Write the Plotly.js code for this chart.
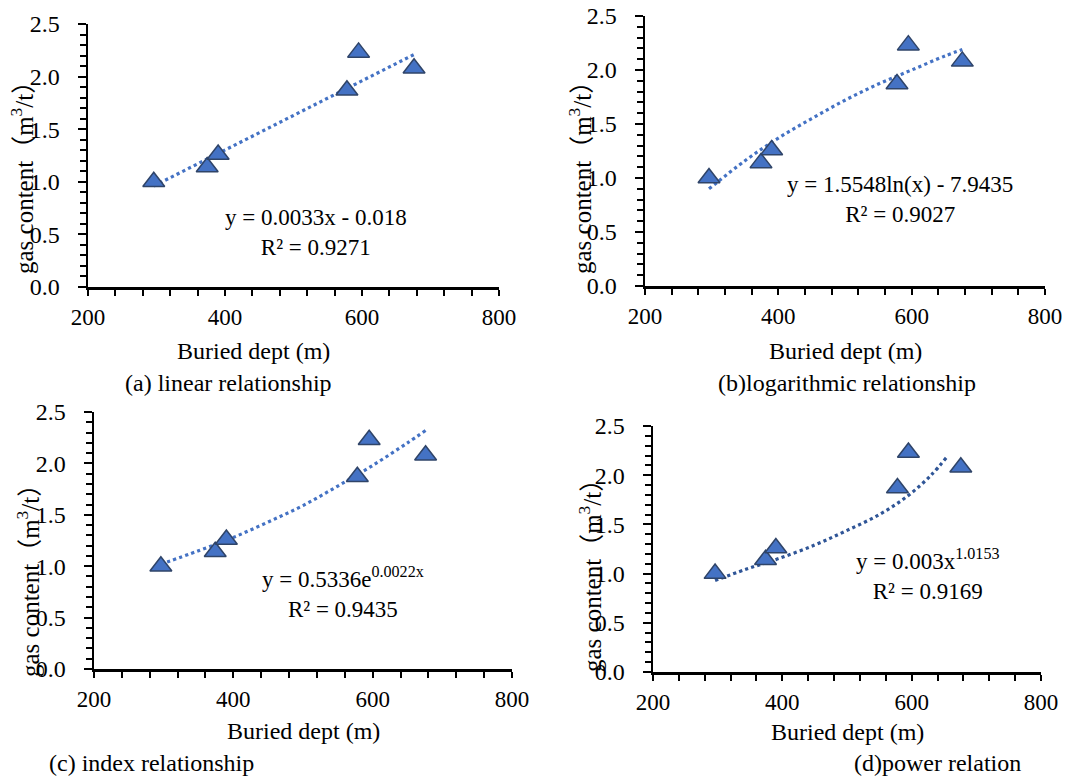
<!DOCTYPE html>
<html>
<head>
<meta charset="utf-8">
<script src="https://cdn.plot.ly/plotly-3.0.1.min.js"></script>
<style>html,body{margin:0;padding:0;background:#fff;}#chart{width:1090px;height:776px;}</style>
</head>
<body>
<div id="chart"></div>
<script>
// ---- data ----
const depth = [296, 374, 390, 578, 595, 676];
const gasContent = [1.00, 1.14, 1.26, 1.87, 2.23, 2.08];

const linFitX = [296, 676];
const linFitY = [0.96, 2.21];

const logFitX = [296, 350, 400, 450, 500, 550, 600, 650, 676];
const logFitY = [0.90, 1.16, 1.37, 1.55, 1.72, 1.87, 2.00, 2.13, 2.19];

const expFitX = [296, 350, 400, 450, 500, 550, 600, 650, 676];
const expFitY = [1.02, 1.15, 1.28, 1.43, 1.59, 1.78, 1.98, 2.20, 2.32];

const powFitX = [296, 342, 393, 450, 497, 550, 594, 630, 655];
const powFitY = [0.93, 1.04, 1.15, 1.29, 1.43, 1.60, 1.79, 2.00, 2.19];

const xTicks = [200, 400, 600, 800];
const yTicks = [0.0, 0.5, 1.0, 1.5, 2.0, 2.5];
const yTickText = ['0.0', '0.5', '1.0', '1.5', '2.0', '2.5'];

const xTitle = 'Buried dept (m)';
const yTitle = 'gas content（m<sup>3</sup>/t）';
const captions = ['(a) linear relationship', '(b)logarithmic relationship', '(c) index relationship', '(d)power relation'];
const eqTexts = ['y = 0.0033x - 0.018<br>R² = 0.9271',
                 'y = 1.5548ln(x) - 7.9435<br>R² = 0.9027',
                 'y = 0.5336e<sup>0.0022x</sup><br>R² = 0.9435',
                 'y = 0.003x<sup>1.0153</sup><br>R² = 0.9169'];

// ---- layout geometry (pixels) ----
const W = 1090, H = 776;
const FONT = "'Liberation Serif', 'Noto Sans CJK SC', serif";
const panels = [
  {x0: 88,  x1: 499,  y0: 24,  y1: 287, ytx: 22,  yty: 172, xtx: 253, xty: 351, capx: 123, capy: 383, eqx: 316, eqy: 232, fitX: linFitX, fitY: linFitY, fitColor: '#4472C4', shape: 'linear'},
  {x0: 645, x1: 1045, y0: 16,  y1: 286, ytx: 580, yty: 172, xtx: 845, xty: 351, capx: 716, capy: 383, eqx: 900, eqy: 200, fitX: logFitX, fitY: logFitY, fitColor: '#4472C4', shape: 'spline'},
  {x0: 94,  x1: 512,  y0: 412, y1: 669, ytx: 28,  yty: 575, xtx: 303, xty: 731, capx: 47,  capy: 763, eqx: 343, eqy: 592, fitX: expFitX, fitY: expFitY, fitColor: '#4472C4', shape: 'spline'},
  {x0: 653, x1: 1041, y0: 426, y1: 672, ytx: 590, yty: 570, xtx: 847, xty: 732, capx: 852, capy: 763, eqx: 928, eqy: 574, fitX: powFitX, fitY: powFitY, fitColor: '#2F5597', shape: 'spline'}
];

const px = x => x / W;
const py = y => 1 - y / H;

const data = [];
const layout = {
  width: W, height: H,
  margin: {l: 0, r: 0, t: 0, b: 0},
  paper_bgcolor: '#fff', plot_bgcolor: '#fff',
  showlegend: false,
  font: {family: FONT, size: 23, color: '#000'},
  annotations: []
};

panels.forEach((p, i) => {
  const n = i === 0 ? '' : String(i + 1);
  const xa = 'x' + n, ya = 'y' + n;
  data.push({
    x: p.fitX, y: p.fitY, xaxis: xa, yaxis: ya, type: 'scatter', mode: 'lines',
    line: {color: p.fitColor, width: 3.2, dash: 'dot', shape: p.shape, smoothing: 1},
    hoverinfo: 'skip'
  });
  data.push({
    x: depth, y: gasContent, xaxis: xa, yaxis: ya, type: 'scatter', mode: 'markers',
    marker: {symbol: 'triangle-up', size: 19, color: '#4472C4', line: {color: '#2F4468', width: 1.5}},
    cliponaxis: false
  });
  layout['xaxis' + n] = {
    domain: [px(p.x0), px(p.x1)], anchor: ya, range: [200, 800],
    tickvals: xTicks, ticktext: xTicks.map(String),
    ticks: 'outside', ticklen: 6, tickwidth: 2, tickcolor: '#000',
    minor: {dtick: 40, tick0: 200, ticks: 'outside', ticklen: 6, tickwidth: 2, tickcolor: '#000'},
    showline: true, linecolor: '#000', linewidth: 2.5, showgrid: false, zeroline: false,
    tickfont: {family: FONT, size: 23, color: '#000'}, ticklabelstandoff: 2
  };
  layout['yaxis' + n] = {
    domain: [py(p.y1), py(p.y0)], anchor: xa, range: [0, 2.5],
    tickvals: yTicks, ticktext: yTickText,
    ticks: 'outside', ticklen: 8, tickwidth: 2, tickcolor: '#000',
    minor: {dtick: 0.1, tick0: 0, ticks: 'outside', ticklen: 6, tickwidth: 2, tickcolor: '#000'},
    showline: true, linecolor: '#000', linewidth: 2.5, showgrid: false, zeroline: false,
    tickfont: {family: FONT, size: 24, color: '#000'}, ticklabelstandoff: 13
  };
  layout.annotations.push({
    xref: 'paper', yref: 'paper', x: px(p.ytx), y: py(p.yty), text: yTitle, textangle: -90,
    showarrow: false, xanchor: 'center', yanchor: 'middle', font: {family: FONT, size: 25, color: '#000'}
  });
  layout.annotations.push({
    xref: 'paper', yref: 'paper', x: px(p.xtx), y: py(p.xty), text: xTitle,
    showarrow: false, xanchor: 'center', yanchor: 'middle', font: {family: FONT, size: 24, color: '#000'}
  });
  layout.annotations.push({
    xref: 'paper', yref: 'paper', x: px(p.capx), y: py(p.capy), text: captions[i],
    showarrow: false, xanchor: 'left', yanchor: 'middle', font: {family: FONT, size: 24, color: '#000'}
  });
  layout.annotations.push({
    xref: 'paper', yref: 'paper', x: px(p.eqx), y: py(p.eqy), text: eqTexts[i],
    showarrow: false, xanchor: 'center', yanchor: 'middle', align: 'center',
    font: {family: FONT, size: 23, color: '#000'}
  });
});

Plotly.newPlot('chart', data, layout, {displayModeBar: false, staticPlot: true});
</script>
</body>
</html>
